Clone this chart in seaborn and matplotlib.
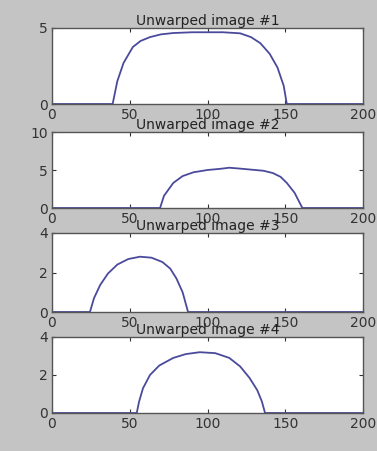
import matplotlib
matplotlib.use("Agg")
import matplotlib.pyplot as plt
import seaborn as sns
import pandas as pd

sns.set_style("white")
plt.rcParams['font.family'] = ['DejaVu Sans']

titles = ["Unwarped image #1", "Unwarped image #2", "Unwarped image #3", "Unwarped image #4"]

x1 = [0, 39, 42, 46, 52, 57, 63, 70, 78, 90, 100, 110, 121, 128, 134, 140, 145, 149, 151, 200]
y1 = [0, 0, 1.5, 2.7, 3.75, 4.15, 4.4, 4.58, 4.67, 4.72, 4.72, 4.72, 4.65, 4.4, 4.0, 3.3, 2.4, 1.2, 0, 0]

x2 = [0, 69.5, 72, 78, 84, 91, 100, 108, 114, 120, 128, 136, 142, 147, 151, 156, 161, 200]
y2 = [0, 0, 1.6, 3.3, 4.2, 4.7, 5.0, 5.15, 5.3, 5.2, 5.05, 4.9, 4.6, 4.1, 3.3, 2.0, 0, 0]

x3 = [0, 24.4, 27, 31, 36, 42, 49, 56.6, 64, 71, 76, 80, 84, 87.5, 200]
y3 = [0, 0, 0.7, 1.37, 1.95, 2.4, 2.68, 2.8, 2.75, 2.53, 2.2, 1.7, 1.0, 0, 0]

x4 = [0, 54.5, 56, 58.5, 63, 69, 78, 86, 95, 105, 114, 121, 127, 132, 135, 137, 200]
y4 = [0, 0, 0.6, 1.3, 2.0, 2.5, 2.9, 3.1, 3.2, 3.15, 2.9, 2.45, 1.85, 1.2, 0.6, 0, 0]

xs = [x1, x2, x3, x4]
ys = [y1, y2, y3, y4]
ylims = [(0, 5), (0, 10), (0, 4), (0, 4)]
yticks = [[0, 5], [0, 5, 10], [0, 2, 4], [0, 2, 4]]
xticks = [0, 50, 100, 150, 200]

W, H = 377, 451
fig = plt.figure(figsize=(W / 100, H / 100), dpi=100, facecolor="#c4c4c4")
# panel pixel extents (top, bottom)
extents = [(28, 104), (132, 208), (233, 312), (337, 413)]
left, right = 52, 363
line_color = "#4a4a9c"

for i in range(4):
    top, bot = extents[i]
    ax = fig.add_axes([left / W, 1 - bot / H, (right - left) / W, (bot - top) / H])
    ax.set_facecolor("white")
    df = pd.DataFrame({"x": xs[i], "y": ys[i]})
    sns.lineplot(data=df, x="x", y="y", ax=ax, sort=False, color=line_color, linewidth=1.3)
    ax.set_xlim(0, 200)
    ax.set_ylim(*ylims[i])
    ax.set_xticks(xticks)
    ax.set_yticks(yticks[i])
    ax.set_xlabel("")
    ax.set_ylabel("")
    ax.tick_params(direction="in", length=3, labelsize=10, colors="#333333", pad=3,
                   top=True, right=True, bottom=True, left=True)
    for s in ax.spines.values():
        s.set_color("#555555")
        s.set_linewidth(1.0)
    ax.set_title(titles[i], fontsize=10, color="#222222", pad=2)

fig.savefig("out.png", dpi=100, facecolor=fig.get_facecolor())
